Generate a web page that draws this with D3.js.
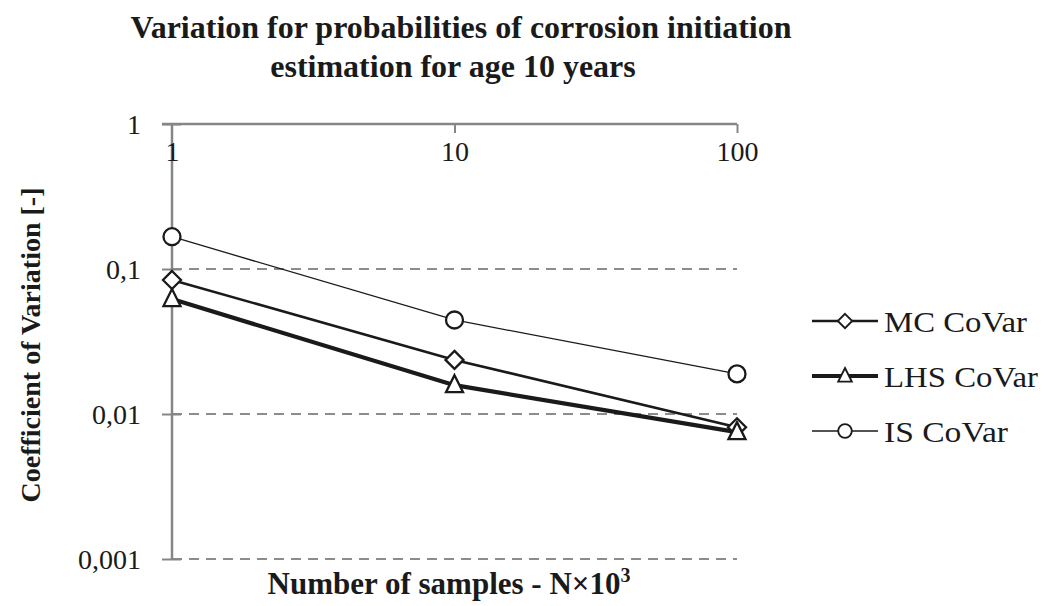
<!DOCTYPE html>
<html>
  <head>
    <script src="https://d3js.org/d3.v7.min.js"></script>
    <style>
      body { margin: 0; background: #fff; }
      text { font-family: "Liberation Serif", "Times New Roman", serif; fill: #1a1a1a; }
    </style>
  </head>
  <body>
    <script>
      // data
      var samples = [1, 10, 100]
      var mcCoVar = [0.084, 0.0236, 0.0081]
      var lhsCoVar = [0.062, 0.0158, 0.0075]
      var isCoVar = [0.167, 0.0445, 0.0189]
      var yTicks = [1, 0.1, 0.01, 0.001]
      var yTickLabels = ["1", "0,1", "0,01", "0,001"]
      var seriesNames = ["MC CoVar", "LHS CoVar", "IS CoVar"]

      var w = 1047
      var h = 606
      var plotLeft = 172
      var plotRight = 737
      var plotTop = 124
      var plotBottom = 559

      var svg = d3.select("body").append("svg")
        .attr("width", w)
        .attr("height", h)

      var x_scale = d3.scaleLog().domain([1, 100]).range([plotLeft, plotRight])
      var y_scale = d3.scaleLog().domain([0.001, 1]).range([plotBottom, plotTop])

      // dashed grid lines
      svg.append("g").selectAll("line")
        .data(yTicks.slice(1))
        .enter().append("line")
        .attr("x1", plotLeft).attr("x2", plotRight)
        .attr("y1", d => y_scale(d)).attr("y2", d => y_scale(d))
        .attr("stroke", "#8c8c8c")
        .attr("stroke-width", 2)
        .attr("stroke-dasharray", "10,7")

      // y axis
      var y_axis = d3.axisLeft(y_scale)
        .tickValues(yTicks)
        .tickFormat((d, i) => yTickLabels[i])
        .tickSize(0)
        .tickPadding(31)
      var gy = svg.append("g")
        .attr("transform", "translate(" + plotLeft + ",0)")
        .call(y_axis)
      gy.select(".domain").remove()
      gy.selectAll("text")
        .style("font-size", "28px")
        .attr("fill", "#1a1a1a")
        .attr("dy", "0.35em")
      gy.selectAll(".tick").append("line")
        .attr("x1", -10).attr("x2", 9)
        .attr("stroke", "#868686").attr("stroke-width", 2)
      svg.append("line")
        .attr("x1", plotLeft).attr("x2", plotLeft)
        .attr("y1", plotTop).attr("y2", plotBottom)
        .attr("stroke", "#868686").attr("stroke-width", 2.5)

      // x axis along the top (value 1)
      var x_axis = d3.axisBottom(x_scale)
        .tickValues(samples)
        .tickFormat(d3.format("d"))
        .tickSize(9)
        .tickSizeOuter(0)
        .tickPadding(6)
      var gx = svg.append("g")
        .attr("transform", "translate(0," + plotTop + ")")
        .call(x_axis)
      gx.select(".domain").attr("stroke", "#868686").attr("stroke-width", 2.5)
        .attr("d", "M" + (plotLeft - 10) + ",0H" + plotRight)
      gx.selectAll(".tick line").attr("stroke", "#868686").attr("stroke-width", 2)
      gx.selectAll(".tick").filter(d => d === 1).select("line").remove()
      gx.selectAll("text").style("font-size", "28px").attr("fill", "#1a1a1a").attr("dy", "0.8em")

      // series
      var series = [
        { name: seriesNames[0], values: mcCoVar, width: 2.6, marker: "diamond", len: 143 },
        { name: seriesNames[1], values: lhsCoVar, width: 4.2, marker: "triangle", len: 154 },
        { name: seriesNames[2], values: isCoVar, width: 1.3, marker: "circle", len: 124 }
      ]

      var line = d3.line()
        .x((d, i) => x_scale(samples[i]))
        .y(d => y_scale(d))

      function marker(g, type) {
        if (type == "diamond") {
          g.append("path").attr("d", "M0,-9L9,0L0,9L-9,0Z")
        } else if (type == "triangle") {
          g.append("path").attr("d", "M0,-10L8.5,7L-8.5,7Z")
        } else {
          g.append("circle").attr("r", 8.5)
        }
        g.selectAll("path, circle")
          .attr("fill", "#fff")
          .attr("stroke", "#1a1a1a")
          .attr("stroke-width", 2.3)
      }

      series.forEach(function(s) {
        svg.append("path")
          .datum(s.values)
          .attr("d", line)
          .attr("fill", "none")
          .attr("stroke", "#1a1a1a")
          .attr("stroke-width", s.width)
      })
      series.forEach(function(s) {
        s.values.forEach(function(v, i) {
          var g = svg.append("g")
            .attr("transform", "translate(" + x_scale(samples[i]) + "," + y_scale(v) + ")")
          marker(g, s.marker)
        })
      })

      // legend
      series.forEach(function(s, i) {
        var ly = 321 + i * 55
        svg.append("line")
          .attr("x1", 812).attr("x2", 878)
          .attr("y1", ly).attr("y2", ly)
          .attr("stroke", "#1a1a1a")
          .attr("stroke-width", s.width)
        var g = svg.append("g")
        marker(g, s.marker)
        g.attr("transform", "translate(845," + ly + ") scale(0.8)")
        svg.append("text")
          .attr("x", 884).attr("y", ly)
          .attr("dy", "0.35em")
          .attr("textLength", s.len)
          .attr("lengthAdjust", "spacingAndGlyphs")
          .style("font-size", "30px")
          .text(s.name)
      })

      // titles
      svg.append("text")
        .attr("x", 461).attr("y", 38)
        .attr("text-anchor", "middle")
        .style("font-size", "32px").style("font-weight", "bold")
        .text("Variation for probabilities of corrosion initiation")
      svg.append("text")
        .attr("x", 453).attr("y", 77)
        .attr("text-anchor", "middle")
        .style("font-size", "32px").style("font-weight", "bold")
        .text("estimation for age 10 years")

      svg.append("text")
        .attr("transform", "translate(40,345) rotate(-90)")
        .attr("text-anchor", "middle")
        .style("font-size", "28px").style("font-weight", "bold")
        .text("Coefficient of  Variation [-]")

      var xt = svg.append("text")
        .attr("x", 449).attr("y", 594)
        .attr("text-anchor", "middle")
        .style("font-size", "31px").style("font-weight", "bold")
      xt.append("tspan").text("Number of samples - N×10")
      xt.append("tspan").attr("dy", -12).style("font-size", "20px").text("3")
    </script>
  </body>
</html>
